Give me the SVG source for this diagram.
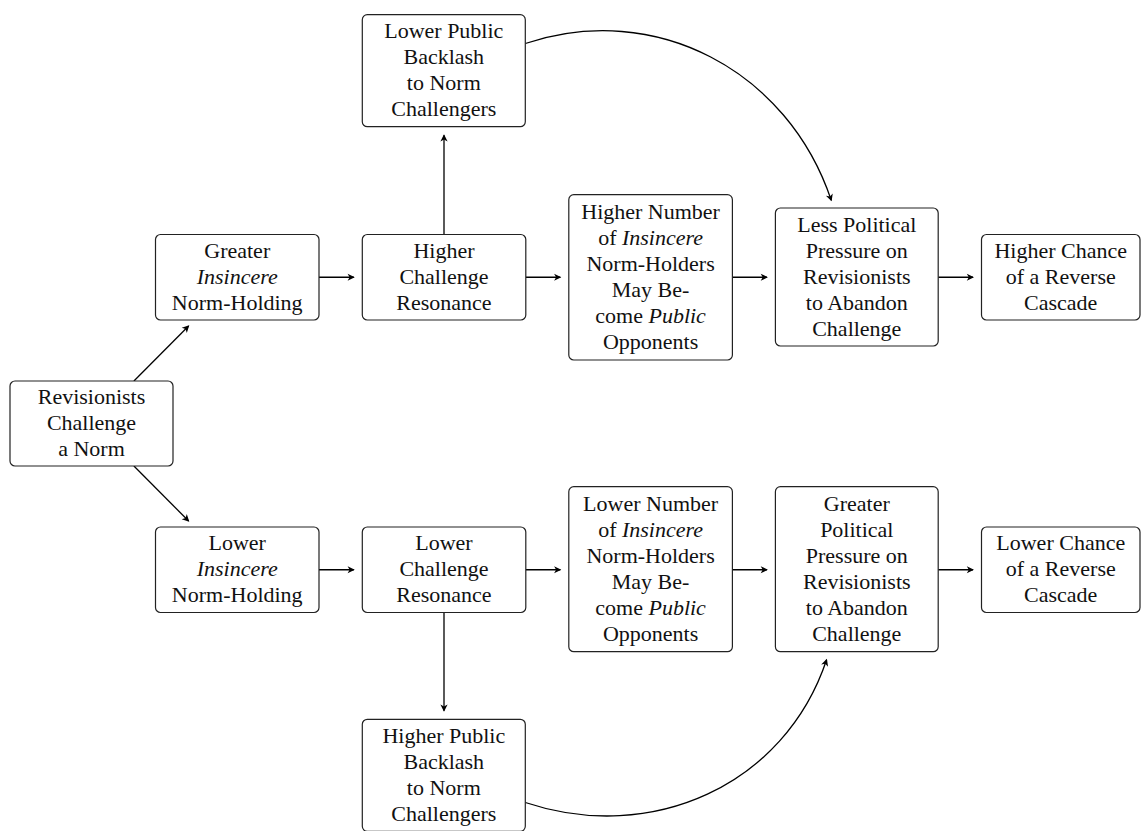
<svg xmlns="http://www.w3.org/2000/svg" width="1141" height="831" viewBox="0 0 1141 831">
<style>
.box{fill:#fff;stroke:#222;stroke-width:1.2}
.t{font-family:'Liberation Serif','DejaVu Serif',serif;font-size:22px;fill:#111;text-anchor:middle}
.i{font-style:italic}
.c{fill:none;stroke:#000;stroke-width:1.3;marker-end:url(#ah)}
</style>
<defs>
<marker id="ah" markerUnits="userSpaceOnUse" markerWidth="10" markerHeight="10" refX="0" refY="0" orient="auto" overflow="visible">
<path d="M1,0 L-6.2,-3.6 L-4.2,0 L-6.2,3.6 Z" fill="#000"/>
</marker>
</defs>
<rect width="1141" height="831" fill="#fff"/>

<g id="connectors">
<path class="c" d="M133.9,381 L188.6,326"/>
<path class="c" d="M133.9,466 L188.6,521"/>
<path class="c" d="M319,277.25 L353.8,277.25"/>
<path class="c" d="M525.8,277.25 L560.3,277.25"/>
<path class="c" d="M732.4,277.25 L766.9,277.25"/>
<path class="c" d="M938.2,277.25 L973,277.25"/>
<path class="c" d="M319,569.75 L353.8,569.75"/>
<path class="c" d="M525.8,569.75 L560.3,569.75"/>
<path class="c" d="M732.4,569.75 L766.9,569.75"/>
<path class="c" d="M938.2,569.75 L973,569.75"/>
<path class="c" d="M444,234.5 L444,135.2"/>
<path class="c" d="M444,612.5 L444,710.8"/>
<path class="c" d="M525.3,43.5 C655.1,0.2 787.9,70.5 831.3,200.4"/>
<path class="c" d="M525.3,802.5 C651.3,844.6 784.5,785.8 826.6,659.8"/>
</g>

<g id="rev">
<rect class="box" x="10" y="381" width="163" height="85" rx="5"/>
<text class="t" x="91.5" y="404"><tspan x="91.5">Revisionists</tspan><tspan x="91.5" dy="26">Challenge</tspan><tspan x="91.5" dy="26">a Norm</tspan></text>
</g>

<g id="greater-insincere">
<rect class="box" x="155.5" y="234.5" width="163.5" height="85.5" rx="5"/>
<text class="t" x="237.25" y="257.75"><tspan x="237.25">Greater</tspan><tspan x="237.25" dy="26" class="i">Insincere</tspan><tspan x="237.25" dy="26">Norm-Holding</tspan></text>
</g>

<g id="higher-resonance">
<rect class="box" x="362.3" y="234.5" width="163.5" height="85.5" rx="5"/>
<text class="t" x="444" y="257.75"><tspan x="444">Higher</tspan><tspan x="444" dy="26">Challenge</tspan><tspan x="444" dy="26">Resonance</tspan></text>
</g>

<g id="lower-backlash">
<rect class="box" x="362.3" y="14.7" width="163" height="112" rx="5"/>
<text class="t" x="443.8" y="38.2"><tspan x="443.8">Lower Public</tspan><tspan x="443.8" dy="26">Backlash</tspan><tspan x="443.8" dy="26">to Norm</tspan><tspan x="443.8" dy="26">Challengers</tspan></text>
</g>

<g id="higher-number">
<rect class="box" x="568.8" y="194.7" width="163.6" height="165.3" rx="5"/>
<text class="t" x="650.6" y="218.8"><tspan x="650.6">Higher Number</tspan><tspan x="650.6" dy="26">of <tspan class="i">Insincere</tspan></tspan><tspan x="650.6" dy="26">Norm-Holders</tspan><tspan x="650.6" dy="26">May Be-</tspan><tspan x="650.6" dy="26">come <tspan class="i">Public</tspan></tspan><tspan x="650.6" dy="26">Opponents</tspan></text>
</g>

<g id="less-pressure">
<rect class="box" x="775.4" y="208" width="162.8" height="138" rx="5"/>
<text class="t" x="856.8" y="231.5"><tspan x="856.8">Less Political</tspan><tspan x="856.8" dy="26">Pressure on</tspan><tspan x="856.8" dy="26">Revisionists</tspan><tspan x="856.8" dy="26">to Abandon</tspan><tspan x="856.8" dy="26">Challenge</tspan></text>
</g>

<g id="higher-chance">
<rect class="box" x="981.5" y="234.5" width="158.5" height="85.5" rx="5"/>
<text class="t" x="1060.75" y="257.75"><tspan x="1060.75">Higher Chance</tspan><tspan x="1060.75" dy="26">of a Reverse</tspan><tspan x="1060.75" dy="26">Cascade</tspan></text>
</g>

<g id="lower-insincere">
<rect class="box" x="155.5" y="527" width="163.5" height="85.5" rx="5"/>
<text class="t" x="237.25" y="550.25"><tspan x="237.25">Lower</tspan><tspan x="237.25" dy="26" class="i">Insincere</tspan><tspan x="237.25" dy="26">Norm-Holding</tspan></text>
</g>

<g id="lower-resonance">
<rect class="box" x="362.3" y="527" width="163.5" height="85.5" rx="5"/>
<text class="t" x="444" y="550.25"><tspan x="444">Lower</tspan><tspan x="444" dy="26">Challenge</tspan><tspan x="444" dy="26">Resonance</tspan></text>
</g>

<g id="lower-number">
<rect class="box" x="568.8" y="486.7" width="163.6" height="165" rx="5"/>
<text class="t" x="650.6" y="510.7"><tspan x="650.6">Lower Number</tspan><tspan x="650.6" dy="26">of <tspan class="i">Insincere</tspan></tspan><tspan x="650.6" dy="26">Norm-Holders</tspan><tspan x="650.6" dy="26">May Be-</tspan><tspan x="650.6" dy="26">come <tspan class="i">Public</tspan></tspan><tspan x="650.6" dy="26">Opponents</tspan></text>
</g>

<g id="greater-pressure">
<rect class="box" x="775.4" y="486.7" width="162.8" height="165" rx="5"/>
<text class="t" x="856.8" y="510.7"><tspan x="856.8">Greater</tspan><tspan x="856.8" dy="26">Political</tspan><tspan x="856.8" dy="26">Pressure on</tspan><tspan x="856.8" dy="26">Revisionists</tspan><tspan x="856.8" dy="26">to Abandon</tspan><tspan x="856.8" dy="26">Challenge</tspan></text>
</g>

<g id="lower-chance">
<rect class="box" x="981.5" y="527" width="158.5" height="85.5" rx="5"/>
<text class="t" x="1060.75" y="550.25"><tspan x="1060.75">Lower Chance</tspan><tspan x="1060.75" dy="26">of a Reverse</tspan><tspan x="1060.75" dy="26">Cascade</tspan></text>
</g>

<g id="higher-backlash">
<rect class="box" x="362.3" y="719.3" width="163" height="112" rx="5"/>
<text class="t" x="443.8" y="742.8"><tspan x="443.8">Higher Public</tspan><tspan x="443.8" dy="26">Backlash</tspan><tspan x="443.8" dy="26">to Norm</tspan><tspan x="443.8" dy="26">Challengers</tspan></text>
</g>
</svg>
